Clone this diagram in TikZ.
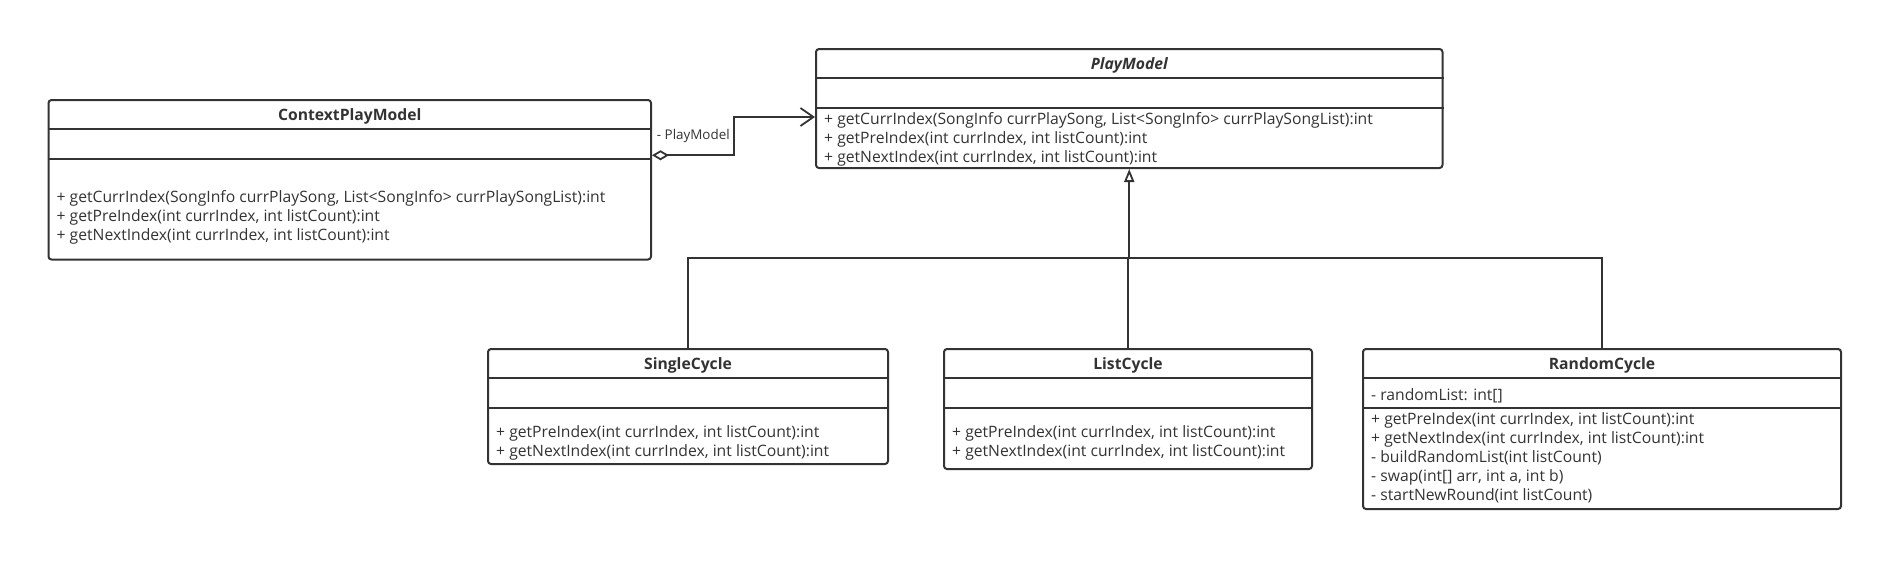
\documentclass[tikz,border=0pt]{standalone}
\usepackage{fontspec}
\setmainfont{Open Sans}
\usetikzlibrary{arrows.meta}
\definecolor{umlline}{HTML}{333333}
\begin{document}
\begin{tikzpicture}[x=1pt,y=-1pt]
    \tikzstyle{classbox} = [draw=umlline, line width=2pt, rounded corners=3pt, anchor=north west, inner sep=0pt]
    \tikzstyle{sep} = [draw=umlline, line width=2pt]
    \tikzstyle{title} = [font=\fontsize{15.7}{19.2}\selectfont\bfseries, text=umlline, inner sep=0pt]
    \tikzstyle{members} = [font=\fontsize{15.7}{19.1}\selectfont, text=umlline, align=left, anchor=west, inner sep=0pt]
    \tikzstyle{rolelabel} = [font=\fontsize{13.4}{16}\selectfont, text=umlline, inner sep=0pt]
    \tikzstyle{arrow} = [draw=umlline, line width=1.8pt]

    \useasboundingbox (0,0) rectangle (1901,587);

    % class boxes
    \node (ctx) [classbox, minimum width=602.5pt, minimum height=159.5pt] at (47.5,99) {};
    \node (play) [classbox, minimum width=626.5pt, minimum height=119pt] at (815,48) {};
    \node (single) [classbox, minimum width=400pt, minimum height=115pt] at (487,348) {};
    \node (list) [classbox, minimum width=368pt, minimum height=120pt] at (943,348) {};
    \node (random) [classbox, minimum width=478pt, minimum height=160pt] at (1362,348) {};

    % compartments
    \foreach \cls in {ctx, play, single, list, random} {
        \draw [sep] ([yshift=-30pt]\cls.north west) -- ([yshift=-30pt]\cls.north east);
        \draw [sep] ([yshift=-60pt]\cls.north west) -- ([yshift=-60pt]\cls.north east);
    }

    % names
    \node (ctx-title) [title] at ([yshift=-17.5pt]ctx.north) {ContextPlayModel};
    \node (play-title) [title] at ([yshift=-17.5pt]play.north) {\itshape PlayModel};
    \node (single-title) [title] at ([yshift=-17.5pt]single.north) {SingleCycle};
    \node (list-title) [title] at ([yshift=-17.5pt]list.north) {ListCycle};
    \node (random-title) [title] at ([yshift=-17.5pt]random.north) {RandomCycle};

    % members
    \node (ctx-ops) [members] at ([xshift=9pt,yshift=-118.5pt]ctx.north west) {+ getCurrIndex(SongInfo currPlaySong, List<SongInfo> currPlaySongList):int\\+ getPreIndex(int currIndex, int listCount):int\\+ getNextIndex(int currIndex, int listCount):int};
    \node (play-ops) [members] at ([xshift=9pt,yshift=-91pt]play.north west) {+ getCurrIndex(SongInfo currPlaySong, List<SongInfo> currPlaySongList):int\\+ getPreIndex(int currIndex, int listCount):int\\+ getNextIndex(int currIndex, int listCount):int};
    \node (single-ops) [members] at ([xshift=9pt,yshift=-94.5pt]single.north west) {+ getPreIndex(int currIndex, int listCount):int\\+ getNextIndex(int currIndex, int listCount):int};
    \node (list-ops) [members] at ([xshift=9pt,yshift=-94.5pt]list.north west) {+ getPreIndex(int currIndex, int listCount):int\\+ getNextIndex(int currIndex, int listCount):int};
    \node (random-attr) [members] at ([xshift=9pt,yshift=-47.5pt]random.north west) {- randomList: int[]};
    \node (random-ops) [members] at ([xshift=9pt,yshift=-109.7pt]random.north west) {+ getPreIndex(int currIndex, int listCount):int\\+ getNextIndex(int currIndex, int listCount):int\\- buildRandomList(int listCount)\\- swap(int[] arr, int a, int b)\\- startNewRound(int listCount)};

    % aggregation
    \draw [arrow, {Diamond[open, length=17pt, width=10pt]}-{Straight Barb[length=13pt, width=18pt]}] ([yshift=24.5pt]ctx.east) -- node (role) [rolelabel, at start, anchor=west, xshift=4pt, yshift=19pt] {- PlayModel} ++(82,0) |- ([yshift=-8.5pt]play.west);

    % generalization
    \coordinate (join) at (play.south |- 0,258);
    \draw [arrow, -{Triangle[open, length=13pt, width=10pt]}] (join) -- (play.south);
    \draw [arrow] (single.north) |- (join) -| (random.north);
    \draw [arrow] (list.north) -- (list.north |- join);
\end{tikzpicture}
\end{document}
